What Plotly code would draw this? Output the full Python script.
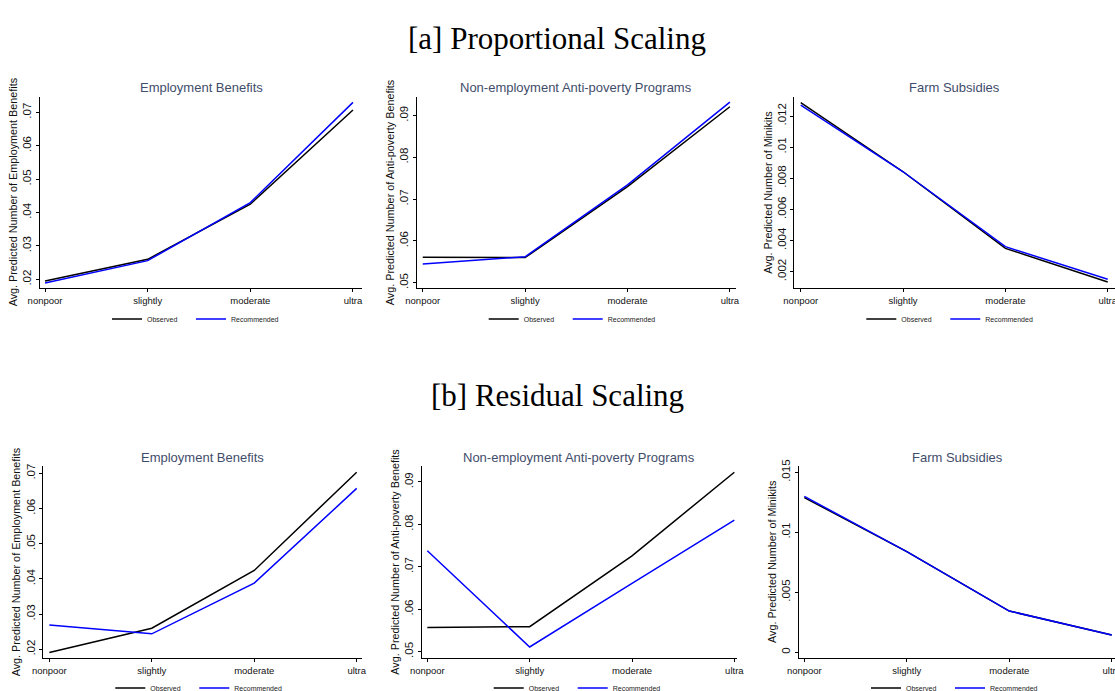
import plotly.graph_objects as go

W, H = 1115, 691

categories = ["nonpoor", "slightly", "moderate", "ultra"]
panel_titles = ["Employment Benefits", "Non-employment Anti-poverty Programs", "Farm Subsidies"]
y_titles = ["Avg. Predicted Number of Employment Benefits",
            "Avg. Predicted Number of Anti-poverty Benefits",
            "Avg. Predicted Number of Minikits"]
row_titles = ["[a] Proportional Scaling", "[b] Residual Scaling"]
series_names = ["Observed", "Recommended"]

# [a] Proportional scaling
a_emp_obs = [0.0195, 0.0260, 0.0425, 0.0707]
a_emp_rec = [0.0189, 0.0256, 0.0430, 0.0730]
a_anti_obs = [0.0561, 0.0560, 0.0730, 0.0921]
a_anti_rec = [0.0545, 0.0562, 0.0734, 0.0932]
a_farm_obs = [0.01286, 0.00842, 0.00350, 0.00134]
a_farm_rec = [0.01270, 0.00842, 0.00361, 0.00151]

# [b] Residual scaling
b_emp_obs = [0.0191, 0.0260, 0.0424, 0.0703]
b_emp_rec = [0.0269, 0.0244, 0.0388, 0.0657]
b_anti_obs = [0.0557, 0.0559, 0.0726, 0.0923]
b_anti_rec = [0.0738, 0.0511, 0.0661, 0.0810]
b_farm_obs = [0.0129, 0.00839, 0.00344, 0.00144]
b_farm_rec = [0.0130, 0.00839, 0.00344, 0.00144]

ytick_a_emp = [0.02, 0.03, 0.04, 0.05, 0.06, 0.07]
ytick_a_anti = [0.05, 0.06, 0.07, 0.08, 0.09]
ytick_a_farm = [0.002, 0.004, 0.006, 0.008, 0.010, 0.012]
ytick_b_emp = [0.02, 0.03, 0.04, 0.05, 0.06, 0.07]
ytick_b_anti = [0.05, 0.06, 0.07, 0.08, 0.09]
ytick_b_farm = [0.0, 0.005, 0.010, 0.015]


def stata_label(v):
    if v == 0:
        return "0"
    s = ("%.3f" % v).rstrip("0")
    return s.lstrip("0")


panels = [
    (a_emp_obs, a_emp_rec, ytick_a_emp, 0, (40, 362), (96.7, 288), (-0.049, 3.088), (0.0174, 0.0747)),
    (a_anti_obs, a_anti_rec, ytick_a_anti, 1, (416.7, 736), (96.7, 288.3), (-0.059, 3.06), (0.04866, 0.0945)),
    (a_farm_obs, a_farm_rec, ytick_a_farm, 2, (794.3, 1115), (96.7, 288.3), (-0.063, 3.071), (0.000934, 0.01324)),
    (b_emp_obs, b_emp_rec, ytick_b_emp, 0, (43.3, 361.7), (466, 658), (-0.059, 3.049), (0.01753, 0.07207)),
    (b_anti_obs, b_anti_rec, ytick_b_anti, 1, (421.7, 736.7), (466, 658), (-0.055, 3.023), (0.04851, 0.09377)),
    (b_farm_obs, b_farm_rec, ytick_b_farm, 2, (799, 1115), (466, 658), (-0.052, 3.032), (-0.000475, 0.01553)),
]

SANS = "Liberation Sans, Arial, sans-serif"
SERIF = "Liberation Serif, Times New Roman, serif"
TITLE_COLOR = "#3f4d6b"

fig = go.Figure()
layout = dict(
    width=W, height=H,
    margin=dict(l=0, r=0, t=0, b=0, autoexpand=False),
    paper_bgcolor="white", plot_bgcolor="white",
    font=dict(family=SANS, color="#111"),
    annotations=[], showlegend=True,
)

leg_count = 0
for i, (obs, rec, yt, ti, xs, ys, xr, yr) in enumerate(panels):
    n = i + 1
    xa = "x" if n == 1 else f"x{n}"
    ya = "y" if n == 1 else f"y{n}"
    leg_y = 319 if n <= 3 else 688
    for k, (name, vals, color) in enumerate(((series_names[0], obs, "black"),
                                             (series_names[1], rec, "#0000ff"))):
        leg_count += 1
        lg = "legend" if leg_count == 1 else f"legend{leg_count}"
        fig.add_trace(go.Scatter(
            x=categories, y=vals, mode="lines", name=name,
            line=dict(color=color, width=1.5),
            xaxis=xa, yaxis=ya, legend=lg, showlegend=True,
        ))
        layout[lg] = dict(
            orientation="h", xref="paper", yref="paper",
            x=(xs[0] + 67 + 84 * k) / W, y=1 - leg_y / H,
            xanchor="left", yanchor="middle",
            font=dict(size=7, family=SANS, color="#222"),
            bgcolor="rgba(0,0,0,0)", borderwidth=0, itemwidth=30,
        )
    layout["xaxis" if n == 1 else f"xaxis{n}"] = dict(
        domain=[xs[0] / W, xs[1] / W], anchor=ya, type="category",
        categoryorder="array", categoryarray=categories,
        range=list(xr), showgrid=False, zeroline=False,
        showline=True, linecolor="black", linewidth=1.2,
        ticks="outside", ticklen=3, tickcolor="black", tickwidth=1,
        tickfont=dict(size=9.5, family=SANS, color="#111"),
    )
    layout["yaxis" if n == 1 else f"yaxis{n}"] = dict(
        domain=[1 - ys[1] / H, 1 - ys[0] / H], anchor=xa,
        range=list(yr), showgrid=False, zeroline=False,
        showline=True, linecolor="black", linewidth=1.2,
        ticks="outside", ticklen=3, tickcolor="black", tickwidth=1,
        tickmode="array", tickvals=yt, ticktext=[stata_label(v) for v in yt],
        tickangle=-90,
        tickfont=dict(size=11.5, family=SANS, color="#111"),
    )
    cx = (xs[0] + xs[1]) / 2
    cy = (ys[0] + ys[1]) / 2
    title_y = 87.5 if n <= 3 else 457.7
    layout["annotations"].append(dict(
        text=panel_titles[ti], xref="paper", yref="paper",
        x=cx / W, y=1 - title_y / H, xanchor="center", yanchor="middle",
        showarrow=False, font=dict(size=13, family=SANS, color=TITLE_COLOR),
    ))
    layout["annotations"].append(dict(
        text=y_titles[ti], xref="paper", yref="paper",
        x=(xs[0] - 27) / W, y=1 - cy / H, xanchor="center", yanchor="middle",
        textangle=-90, showarrow=False, font=dict(size=10.8, family=SANS, color="#111"),
    ))

for txt, yy in zip(row_titles, (39, 395)):
    layout["annotations"].append(dict(
        text=txt, xref="paper", yref="paper", x=557 / W, y=1 - yy / H,
        xanchor="center", yanchor="middle", showarrow=False,
        font=dict(size=31, family=SERIF, color="black"),
    ))

fig.update_layout(**layout)
fig.write_html(
    "out.html",
    config={"displayModeBar": False},
    post_script="document.body.style.margin='0';document.body.style.padding='0';"
                "document.documentElement.style.overflow='hidden';",
)
